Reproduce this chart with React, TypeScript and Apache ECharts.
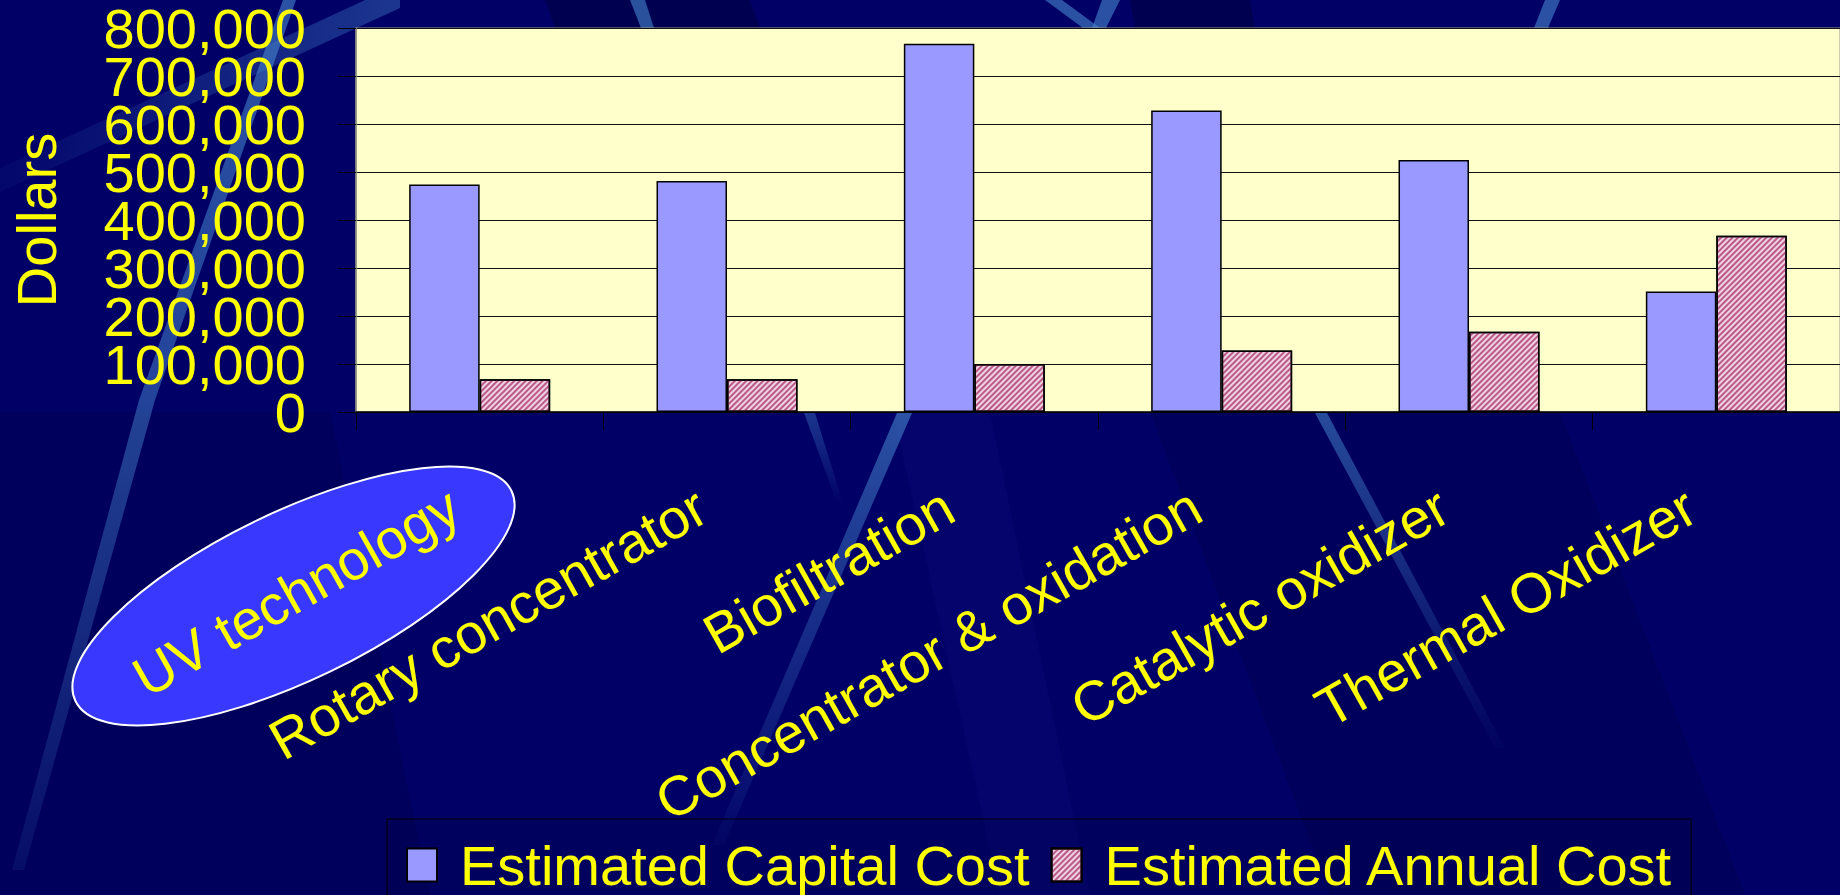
import React, { useEffect, useRef } from 'react';
import * as echarts from 'echarts';

const categories = [
  'UV technology',
  'Rotary concentrator',
  'Biofiltration',
  'Concentrator & oxidation',
  'Catalytic oxidizer',
  'Thermal Oxidizer',
];
const capitalCost = [474000, 481000, 767000, 628000, 525000, 251000];
const annualCost = [68000, 68000, 100000, 128000, 167000, 367000];
const seriesNames = ['Estimated Capital Cost', 'Estimated Annual Cost'];
const yMax = 800000;
const yInterval = 100000;

const FONT = '"Liberation Sans", Arial, Helvetica, sans-serif';
const YELLOW = '#FFFF00';

function streak(points: number[][], a1: number, a2: number, vertical = true) {
  return {
    type: 'polygon',
    silent: true,
    z: -20,
    shape: { points },
    style: {
      fill: new echarts.graphic.LinearGradient(0, 0, vertical ? 0 : 1, vertical ? 1 : 0, [
        { offset: 0, color: `rgba(70,135,205,${a1})` },
        { offset: 1, color: `rgba(70,135,205,${a2})` },
      ]),
    },
  };
}

function shade(points: number[][], color: string) {
  return { type: 'polygon', silent: true, z: -30, shape: { points }, style: { fill: color } };
}

// Labels alternate between two overlaid axes so that ECharts does not hide
// the tightly packed (overlapping, as in the original) tick labels.
const fmt = (parity: number) => (v: number) =>
  Math.round(v / yInterval) % 2 === parity ? v.toLocaleString('en-US') : '';

function yAxisDef(parity: number, main: boolean) {
  return {
    type: 'value',
    position: 'left',
    min: 0,
    max: yMax,
    interval: yInterval,
    name: main ? 'Dollars' : '',
    nameLocation: 'middle',
    nameRotate: 90,
    nameGap: 292,
    nameTextStyle: { color: YELLOW, fontSize: 56, fontFamily: FONT },
    axisLine: { show: main, lineStyle: { color: '#8a8a80', width: 1.5 } },
    axisTick: { show: main, length: 18, lineStyle: { color: '#000000', width: 1 } },
    axisLabel: {
      color: YELLOW,
      fontSize: 56,
      lineHeight: 44,
      fontFamily: FONT,
      margin: 50,
      showMinLabel: true,
      showMaxLabel: true,
      hideOverlap: false,
      formatter: fmt(parity),
    },
    splitLine: { show: main, lineStyle: { color: '#111111', width: 1 } },
  };
}

export default function App() {
  const ref = useRef<HTMLDivElement>(null);
  useEffect(() => {
    const chart = echarts.init(ref.current!, null, { renderer: 'svg' });
    const option: any = {
      animation: false,
      backgroundColor: '#000066',
      textStyle: { fontFamily: FONT },
      graphic: [
        shade([[1150, 412], [1560, 412], [1745, 895], [1330, 895]], 'rgba(0,0,40,0.15)'),
        shade([[0, 412], [330, 412], [430, 895], [0, 895]], 'rgba(0,0,40,0.15)'),
        shade([[893, 412], [990, 412], [1090, 895], [1000, 895]], 'rgba(20,20,140,0.18)'),
        shade([[545, 0], [750, 0], [760, 28], [555, 28]], 'rgba(0,0,40,0.35)'),
        shade([[1130, 0], [1250, 0], [1255, 28], [1135, 28]], 'rgba(0,0,40,0.35)'),
        streak([[283, 0], [296, 0], [155, 400], [139, 400]], 0.6, 0.5),
        streak([[139, 400], [155, 400], [24, 870], [12, 870]], 0.5, 0.1),
        streak([[0, 168], [0, 192], [400, 8], [400, -16]], 0.05, 0.4, false),
        streak([[630, 0], [645, 0], [654, 28], [641, 28]], 0.6, 0.6),
        streak([[1045, 0], [1062, 0], [1100, 28], [1083, 28]], 0.6, 0.6),
        streak([[1102, 0], [1120, 0], [1106, 28], [1092, 28]], 0.6, 0.6),
        streak([[1545, 0], [1560, 0], [1548, 28], [1534, 28]], 0.6, 0.6),
        streak([[897, 413], [912, 413], [724, 845], [712, 845]], 0.6, 0.05),
        streak([[1315, 413], [1327, 413], [1505, 748], [1495, 748]], 0.55, 0.02),
        streak([[804, 413], [815, 413], [842, 500], [836, 500]], 0.4, 0.02),
        {
          type: 'ellipse',
          silent: true,
          z: -5,
          x: 293.5,
          y: 596,
          rotation: (25.7 * Math.PI) / 180,
          shape: { cx: 0, cy: 0, rx: 242, ry: 84 },
          style: { fill: '#3838FF', stroke: '#FFFFFF', lineWidth: 2 },
        },
      ],
      grid: {
        left: 350,
        top: 28,
        right: -7,
        bottom: 483,
        show: true,
        backgroundColor: '#FFFFCC',
        borderColor: '#9a9a8a',
        borderWidth: 1,
      },
      legend: {
        data: seriesNames,
        left: 387,
        top: 819,
        orient: 'horizontal',
        icon: 'rect',
        itemWidth: 30,
        itemHeight: 33,
        itemGap: 21,
        padding: [16, 17, 40, 19],
        borderColor: '#000000',
        borderWidth: 1,
        backgroundColor: 'rgba(0,0,70,0.2)',
        textStyle: {
          color: YELLOW,
          fontSize: 56,
          fontFamily: FONT,
          lineHeight: 60,
          padding: [0, 0, 0, 18],
        },
      },
      xAxis: {
        type: 'category',
        data: categories,
        axisLine: { show: true, lineStyle: { color: '#000000', width: 1.5 } },
        axisTick: { show: true, length: 18, lineStyle: { color: '#000000', width: 1 } },
        axisLabel: {
          interval: 0,
          rotate: 29.5,
          margin: 76,
          padding: [0, 29, 0, 0],
          color: YELLOW,
          fontSize: 56,
          fontFamily: FONT,
          hideOverlap: false,
        },
        splitLine: { show: false },
      },
      yAxis: [yAxisDef(0, true), yAxisDef(1, false)],
      series: [
        {
          name: seriesNames[0],
          type: 'bar',
          yAxisIndex: 0,
          data: capitalCost,
          barGap: '0%',
          barCategoryGap: '43%',
          itemStyle: { color: '#9999FF', borderColor: '#000000', borderWidth: 1.5 },
        },
        {
          name: seriesNames[1],
          type: 'bar',
          yAxisIndex: 0,
          data: annualCost,
          barGap: '0%',
          barCategoryGap: '43%',
          itemStyle: {
            color: '#F2D2E2',
            borderColor: '#000000',
            borderWidth: 1.5,
            decal: {
              symbol: 'rect',
              symbolSize: 1,
              dashArrayX: [1, 0],
              dashArrayY: [1.2, 1.8],
              rotation: -Math.PI / 4,
              color: 'rgba(160,40,100,0.7)',
            },
          },
        },
      ],
    };
    chart.setOption(option);
    return () => chart.dispose();
  }, []);
  return (
    <div
      ref={ref}
      style={{ position: 'fixed', left: 0, top: 0, width: 1840, height: 895, overflow: 'hidden' }}
    />
  );
}
